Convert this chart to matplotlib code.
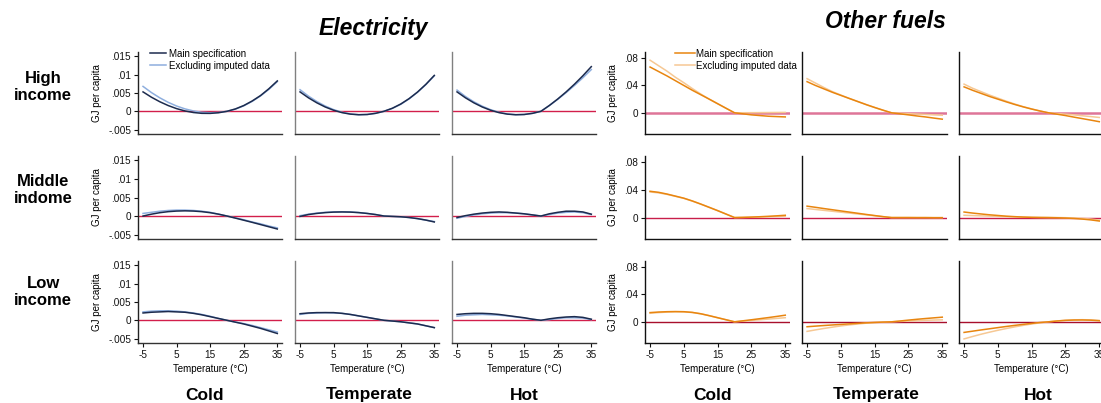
import matplotlib
matplotlib.use("Agg")
import matplotlib.pyplot as plt

plt.rcParams['font.family'] = ['Liberation Sans', 'DejaVu Sans']

# ---------------- data ----------------
temps = [-5, -2.5, 0, 2.5, 5, 7.5, 10, 12.5, 15, 17.5, 20, 22.5, 25, 27.5, 30, 32.5, 35]
climates = ["Cold", "Temperate", "Hot"]
incomes = ["High\nincome", "Middle\nindome", "Low\nincome"]
xticks = [-5, 5, 15, 25, 35]
elec_yticks = [-0.005, 0, 0.005, 0.01, 0.015]
elec_yticklabels = ["-.005", "0", ".005", ".01", ".015"]
fuel_yticks = [0, 0.04, 0.08]
fuel_yticklabels = ["0", ".04", ".08"]

# Electricity: main specification / excluding imputed data
elec_high_cold_main = [0.0053, 0.00385, 0.00261, 0.00157, 0.00073, 0.0001, -0.00033, -0.00055, -0.00057, -0.00039, 0,
                       0.00064, 0.00157, 0.00281, 0.0043, 0.00617, 0.0083]
elec_high_cold_excl = [0.0068, 0.00512, 0.00368, 0.00245, 0.00144, 0.00066, 0.0001, -0.00026, -0.00039, -0.00031, 0,
                       0.00058, 0.0015, 0.0027, 0.0042, 0.0060, 0.0081]
elec_high_temp_main = [0.0053, 0.00369, 0.00232, 0.00118, 0.00029, -0.00036, -0.00077, -0.00094, -0.00087, -0.00055, 0,
                       0.00083, 0.00199, 0.00347, 0.00526, 0.00738, 0.0098]
elec_high_temp_excl = [0.0059, 0.00415, 0.00267, 0.00144, 0.00046, -0.00026, -0.00072, -0.00092, -0.00087, -0.00056, 0,
                       0.0008, 0.0019, 0.0034, 0.0052, 0.0073, 0.0097]
elec_high_hot_main = [0.0053, 0.00369, 0.00232, 0.00118, 0.00029, -0.00036, -0.00077, -0.00094, -0.00087, -0.00055, 0,
                      0.00159, 0.00336, 0.0053, 0.00742, 0.00972, 0.0122]
elec_high_hot_excl = [0.0058, 0.00405, 0.0026, 0.0014, 0.00044, -0.00027, -0.00073, -0.00092, -0.00087, -0.00056, 0,
                      0.00157, 0.00327, 0.0051, 0.00707, 0.00917, 0.0114]
elec_mid_cold_main = [0.0, 0.0005, 0.0009, 0.00118, 0.00134, 0.0014, 0.00134, 0.00118, 0.0009, 0.0005, 0,
                      -0.00056, -0.00113, -0.0017, -0.0023, -0.0029, -0.0035]
elec_mid_cold_excl = [0.0007, 0.0010, 0.0013, 0.0015, 0.0016, 0.0016, 0.0015, 0.0013, 0.0010, 0.0005, 0,
                      -0.0005, -0.0010, -0.0016, -0.0021, -0.0027, -0.0032]
elec_mid_temp_main = [-0.0001, 0.0004, 0.0007, 0.00092, 0.00106, 0.0011, 0.00106, 0.00092, 0.0007, 0.0004, 0,
                      -0.0001, -0.0002, -0.0004, -0.0007, -0.0011, -0.0016]
elec_mid_temp_excl = [0.0001, 0.0005, 0.0008, 0.001, 0.0011, 0.00115, 0.0011, 0.00095, 0.0007, 0.0004, 0,
                      -0.0001, -0.0002, -0.0004, -0.0007, -0.0011, -0.0015]
elec_mid_hot_main = [-0.0004, 0.0001, 0.0005, 0.0008, 0.0010, 0.0011, 0.0010, 0.0008, 0.0006, 0.0003, 0,
                     0.0006, 0.0010, 0.0013, 0.0013, 0.0011, 0.0005]
elec_mid_hot_excl = [-0.0006, -0.0001, 0.0003, 0.0006, 0.0008, 0.0009, 0.0009, 0.0008, 0.0006, 0.0003, 0,
                     0.0004, 0.0008, 0.0010, 0.0011, 0.0009, 0.0004]
elec_low_cold_main = [0.0020, 0.0022, 0.0023, 0.0024, 0.0023, 0.0022, 0.0019, 0.0015, 0.0010, 0.0005, 0,
                      -0.0005, -0.0010, -0.0016, -0.0022, -0.0029, -0.0036]
elec_low_cold_excl = [0.0023, 0.0025, 0.0026, 0.0026, 0.0025, 0.0023, 0.0020, 0.0016, 0.0011, 0.0005, 0,
                      -0.0005, -0.0009, -0.0014, -0.0020, -0.0026, -0.0032]
elec_low_temp_main = [0.0018, 0.0020, 0.0021, 0.0021, 0.0021, 0.0019, 0.0016, 0.0012, 0.0008, 0.0004, 0,
                      -0.0002, -0.0004, -0.0007, -0.0010, -0.0015, -0.0020]
elec_low_temp_excl = [0.0016, 0.0019, 0.0020, 0.0021, 0.0020, 0.0019, 0.0016, 0.0012, 0.0008, 0.0004, 0,
                      -0.0002, -0.0004, -0.0007, -0.0010, -0.0015, -0.0020]
elec_low_hot_main = [0.0016, 0.0018, 0.0019, 0.0019, 0.0018, 0.0016, 0.0013, 0.0010, 0.0007, 0.0003, 0,
                     0.0004, 0.0007, 0.0009, 0.0010, 0.0008, 0.0003]
elec_low_hot_excl = [0.0011, 0.0014, 0.0015, 0.0016, 0.0015, 0.0014, 0.0012, 0.0009, 0.0006, 0.0003, 0,
                     0.0002, 0.0005, 0.0007, 0.0007, 0.0006, 0.0002]

# Other fuels
fuel_high_cold_main = [0.067, 0.0605, 0.054, 0.047, 0.040, 0.033, 0.0265, 0.020, 0.0133, 0.0066, 0,
                       -0.0015, -0.003, -0.004, -0.005, -0.0055, -0.006]
fuel_high_cold_excl = [0.077, 0.069, 0.061, 0.052, 0.044, 0.0355, 0.0275, 0.020, 0.0133, 0.0066, 0,
                       0.0001, 0.0002, 0.0003, 0.0004, 0.0005, 0.0006]
fuel_high_temp_main = [0.0456, 0.040, 0.035, 0.030, 0.0255, 0.021, 0.0165, 0.012, 0.0078, 0.0038, 0,
                       -0.0015, -0.003, -0.0046, -0.006, -0.0077, -0.0093]
fuel_high_temp_excl = [0.050, 0.0435, 0.037, 0.031, 0.026, 0.021, 0.0165, 0.012, 0.0078, 0.0038, 0,
                       -0.0006, -0.0012, -0.0018, -0.0024, -0.003, -0.0035]
fuel_high_hot_main = [0.038, 0.033, 0.0285, 0.024, 0.020, 0.016, 0.0122, 0.0087, 0.0055, 0.0026, 0,
                      -0.002, -0.004, -0.0063, -0.0085, -0.0107, -0.013]
fuel_high_hot_excl = [0.042, 0.036, 0.031, 0.026, 0.0215, 0.017, 0.0128, 0.009, 0.0057, 0.0027, 0,
                      -0.001, -0.002, -0.003, -0.0043, -0.0055, -0.0068]
fuel_mid_cold_main = [0.038, 0.0365, 0.034, 0.031, 0.028, 0.024, 0.0195, 0.0148, 0.010, 0.005, 0,
                      0.0003, 0.0007, 0.0012, 0.0018, 0.0025, 0.0033]
fuel_mid_cold_excl = [0.037, 0.0357, 0.0335, 0.0307, 0.0277, 0.0238, 0.0194, 0.0147, 0.010, 0.005, 0,
                      0.0002, 0.0005, 0.0008, 0.0012, 0.0016, 0.0020]
fuel_mid_temp_main = [0.0165, 0.0148, 0.013, 0.0113, 0.0096, 0.0079, 0.0062, 0.0045, 0.0029, 0.0013, 0,
                      0, 0, -0.0001, -0.0001, -0.0002, -0.0002]
fuel_mid_temp_excl = [0.013, 0.0117, 0.0104, 0.0091, 0.0078, 0.0065, 0.0052, 0.0039, 0.0026, 0.0013, 0,
                      0, 0, 0, 0, -0.0001, -0.0001]
fuel_mid_hot_main = [0.008, 0.0065, 0.0052, 0.004, 0.003, 0.002, 0.0013, 0.0007, 0.0003, 0.0001, 0,
                     -0.0003, -0.0007, -0.0013, -0.0022, -0.0034, -0.005]
fuel_mid_hot_excl = [0.0033, 0.0029, 0.0025, 0.0021, 0.0017, 0.0013, 0.001, 0.0007, 0.0004, 0.0002, 0,
                     0.0, -0.0002, -0.0006, -0.0012, -0.0022, -0.0036]
fuel_low_cold_main = [0.0135, 0.0143, 0.0148, 0.015, 0.0148, 0.0138, 0.0118, 0.009, 0.006, 0.003, 0,
                      0.0015, 0.003, 0.0046, 0.0062, 0.0079, 0.0097]
fuel_low_cold_excl = [0.0125, 0.0135, 0.0142, 0.0146, 0.0145, 0.0136, 0.0117, 0.009, 0.006, 0.003, 0,
                      0.001, 0.002, 0.003, 0.004, 0.005, 0.006]
fuel_low_temp_main = [-0.0072, -0.0063, -0.0054, -0.0046, -0.0038, -0.003, -0.0022, -0.0015, -0.0009, -0.0004, 0,
                      0.0012, 0.0025, 0.0037, 0.0048, 0.0058, 0.0068]
fuel_low_temp_excl = [-0.014, -0.0118, -0.0097, -0.0078, -0.006, -0.0045, -0.0032, -0.002, -0.0011, -0.0005, 0,
                      0.0006, 0.0012, 0.0017, 0.0022, 0.0026, 0.0029]
fuel_low_hot_main = [-0.0155, -0.0137, -0.0119, -0.0102, -0.0085, -0.0068, -0.0052, -0.0037, -0.0023, -0.001, 0,
                     0.0012, 0.0021, 0.0026, 0.0027, 0.0024, 0.0016]
fuel_low_hot_excl = [-0.025, -0.0215, -0.0182, -0.0152, -0.0124, -0.0098, -0.0074, -0.0052, -0.0032, -0.0015, 0,
                     0.0013, 0.0023, 0.0029, 0.0031, 0.0028, 0.002]

elec_main = [[elec_high_cold_main, elec_high_temp_main, elec_high_hot_main],
             [elec_mid_cold_main, elec_mid_temp_main, elec_mid_hot_main],
             [elec_low_cold_main, elec_low_temp_main, elec_low_hot_main]]
elec_excl = [[elec_high_cold_excl, elec_high_temp_excl, elec_high_hot_excl],
             [elec_mid_cold_excl, elec_mid_temp_excl, elec_mid_hot_excl],
             [elec_low_cold_excl, elec_low_temp_excl, elec_low_hot_excl]]
fuel_main = [[fuel_high_cold_main, fuel_high_temp_main, fuel_high_hot_main],
             [fuel_mid_cold_main, fuel_mid_temp_main, fuel_mid_hot_main],
             [fuel_low_cold_main, fuel_low_temp_main, fuel_low_hot_main]]
fuel_excl = [[fuel_high_cold_excl, fuel_high_temp_excl, fuel_high_hot_excl],
             [fuel_mid_cold_excl, fuel_mid_temp_excl, fuel_mid_hot_excl],
             [fuel_low_cold_excl, fuel_low_temp_excl, fuel_low_hot_excl]]

# ---------------- layout ----------------
W, H = 1101, 403
fig = plt.figure(figsize=(W / 100, H / 100), dpi=100)

elec_cols = [(138, 282), (295, 439), (452, 596)]
fuel_cols = [(645, 790), (802, 947), (959, 1104)]
rows = [(52, 134), (156, 239), (261, 343)]
elec_col_centers = [205, 369, 524]
fuel_col_centers = [712, 876, 1038]

def add_ax(x0, x1, y0, y1):
    return fig.add_axes([x0 / W, 1 - y1 / H, (x1 - x0) / W, (y1 - y0) / H])

ELEC_MAIN = "#1c2b4e"
ELEC_EXCL = "#8eaede"
FUEL_MAIN = "#e8850f"
FUEL_EXCL = "#f6c894"
fuel_zero_colors = ["#de7598", "#c81e4a", "#a80f2c"]

def style(ax, c, r, group):
    for s in ["top", "right"]:
        ax.spines[s].set_visible(False)
    if group == "elec":
        left_col = "#222222" if c == 0 else "#808080"
        ax.spines["left"].set_color(left_col)
        ax.spines["bottom"].set_color("#333333")
    else:
        ax.spines["left"].set_color("#111111")
        ax.spines["bottom"].set_color("#111111")
    ax.spines["left"].set_linewidth(1.0)
    ax.spines["bottom"].set_linewidth(1.0)
    ax.set_xlim(-6.5, 36.4)
    ax.tick_params(axis="both", labelsize=7.2, length=3, width=0.8, pad=2, colors="#111111")
    if r == 2:
        ax.set_xticks(xticks)
        ax.set_xticklabels([str(t) for t in xticks])
        ax.set_xlabel("Temperature (°C)", fontsize=7, labelpad=3)
    else:
        ax.set_xticks([])
    if c == 0:
        if group == "elec":
            ax.set_yticks(elec_yticks)
            ax.set_yticklabels(elec_yticklabels)
        else:
            ax.set_yticks(fuel_yticks)
            ax.set_yticklabels(fuel_yticklabels)
        ax.set_ylabel("GJ per capita", fontsize=7, labelpad=4)
    else:
        ax.set_yticks([])

for r in range(3):
    y0, y1 = rows[r]
    for c in range(3):
        ax = add_ax(elec_cols[c][0], elec_cols[c][1], y0, y1)
        ax.axhline(0, color="#d21f4b", lw=1.0, zorder=1)
        ax.plot(temps, elec_excl[r][c], color=ELEC_EXCL, lw=1.1, zorder=2,
                label="Excluding imputed data")
        ax.plot(temps, elec_main[r][c], color=ELEC_MAIN, lw=1.1, zorder=3,
                label="Main specification")
        ax.set_ylim(-0.0062, 0.0162)
        style(ax, c, r, "elec")
        if r == 0 and c == 0:
            h, l = ax.get_legend_handles_labels()
            ax.legend(h[::-1], l[::-1], loc="upper left", bbox_to_anchor=(0.04, 1.11),
                      frameon=False, fontsize=7, handlelength=1.7, handletextpad=0.3,
                      labelspacing=0.2, borderpad=0.1)

        ax = add_ax(fuel_cols[c][0], fuel_cols[c][1], y0, y1)
        lw0 = 1.8 if r == 0 else 1.0
        ax.axhline(0, color=fuel_zero_colors[r], lw=lw0, zorder=1)
        ax.plot(temps, fuel_excl[r][c], color=FUEL_EXCL, lw=1.1, zorder=2,
                label="Excluding imputed data")
        ax.plot(temps, fuel_main[r][c], color=FUEL_MAIN, lw=1.1, zorder=3,
                label="Main specification")
        ax.set_ylim(-0.031, 0.089)
        style(ax, c, r, "fuel")
        if r == 0 and c == 0:
            h, l = ax.get_legend_handles_labels()
            ax.legend(h[::-1], l[::-1], loc="upper left", bbox_to_anchor=(0.17, 1.11),
                      frameon=False, fontsize=7, handlelength=2.0, handletextpad=0.12,
                      labelspacing=0.2, borderpad=0.1)

# titles
fig.text(373 / W, 1 - 28 / H, "Electricity", ha="center", va="center",
         fontsize=16.5, fontweight="bold", fontstyle="italic")
fig.text(885 / W, 1 - 22 / H, "Other fuels", ha="center", va="center",
         fontsize=16.5, fontweight="bold", fontstyle="italic")

# row labels
for lab, yc in zip(incomes, [87, 190, 292]):
    fig.text(43 / W, 1 - yc / H, lab, ha="center", va="center", fontsize=12,
             fontweight="bold", linespacing=1.2)

# column labels
for centers in (elec_col_centers, fuel_col_centers):
    for xc, lab in zip(centers, climates):
        fig.text(xc / W, 1 - 395 / H, lab, ha="center", va="center", fontsize=12.5,
                 fontweight="bold")

fig.savefig("out.png", dpi=100)
